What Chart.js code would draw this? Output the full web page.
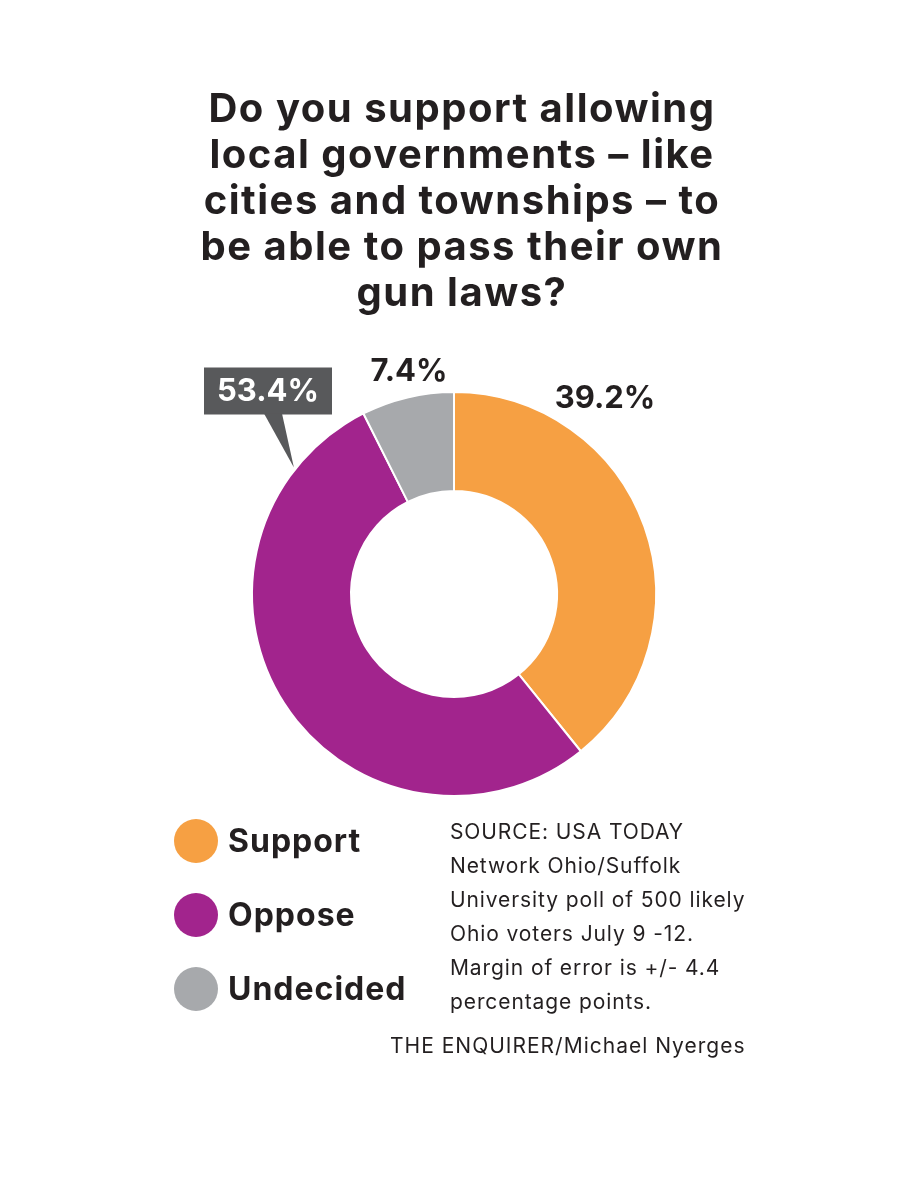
<!DOCTYPE html>
<html>
<head>
<meta charset="utf-8">
<script src="https://cdn.jsdelivr.net/npm/chart.js@4.4.1/dist/chart.umd.min.js"></script>
<style>
  html, body { margin: 0; padding: 0; background: #fff; }
  body { width: 900px; height: 1200px; position: relative; overflow: hidden; font-family: Inter, "Open Sans", sans-serif; color: #231f20; }
  #chart { position: absolute; left: 0; top: 0; }
  #title { position: absolute; left: 162px; width: 600px; top: 85px; text-align: center; font-weight: 700; font-size: 40px; line-height: 46px; letter-spacing: 1.5px; }
  #legend { position: absolute; left: 174px; top: 819px; }
  .item { position: relative; height: 74px; }
  .dot { position: absolute; left: 0; top: 0; width: 44px; height: 44px; border-radius: 50%; }
  .lab { position: absolute; left: 54px; top: 0; line-height: 44px; font-size: 32px; font-weight: 700; white-space: nowrap; letter-spacing: 1px; }
  #source { position: absolute; left: 450px; top: 815px; font-size: 21px; line-height: 34px; letter-spacing: 0.9px; }
  #credit { position: absolute; left: 390px; top: 1029px; font-size: 21px; line-height: 34px; letter-spacing: 1px; }
</style>
</head>
<body>
<canvas id="chart" width="900" height="1200"></canvas>
<div id="title">Do you support allowing<br>local governments – like<br>cities and townships – to<br>be able to pass their own<br>gun laws?</div>
<div id="legend"></div>
<div id="source">SOURCE: USA TODAY<br>Network Ohio/Suffolk<br>University poll of 500 likely<br>Ohio voters July 9 -12.<br>Margin of error is +/- 4.4<br>percentage points.</div>
<div id="credit">THE ENQUIRER/Michael Nyerges</div>
<script>
const categories = ['Support', 'Oppose', 'Undecided'];
const values = [39.2, 53.4, 7.4];
const valueLabels = ['39.2%', '53.4%', '7.4%'];
const colors = ['#f6a043', '#a2248d', '#a7a9ac'];

// legend
const legend = document.getElementById('legend');
categories.forEach((c, i) => {
    const item = document.createElement('div');
    item.className = 'item';
    item.innerHTML = '<div class="dot" style="background:' + colors[i] + '"></div><div class="lab">' + c + '</div>';
    legend.appendChild(item);
});

// label offsets from doughnut centre
const labelStyle = [
    { dx: 151, dy: -196, box: false },
    { dx: -186, dy: -203, box: true, tipAngle: -51.7 },
    { dx: -45, dy: -223, box: false }
];

const labelPlugin = {
    id: 'labels',
    afterDatasetsDraw(chart) {
        const ctx = chart.ctx;
        const meta = chart.getDatasetMeta(0);
        const cx = meta.data[0].x, cy = meta.data[0].y, R = meta.data[0].outerRadius;
        ctx.save();
        ctx.font = '700 31px Inter, "Open Sans", sans-serif';
        ctx.textAlign = 'center';
        ctx.textBaseline = 'middle';
        labelStyle.forEach((s, i) => {
            const x = cx + s.dx, y = cy + s.dy;
            if (s.box) {
                const w = 128, h = 47;
                const a = s.tipAngle * Math.PI / 180;
                const tx = cx + Math.sin(a) * (R + 2), ty = cy - Math.cos(a) * (R + 2);
                ctx.fillStyle = '#58595b';
                ctx.fillRect(x - w / 2, y - h / 2, w, h);
                ctx.beginPath();
                ctx.moveTo(x - 4, y + h / 2 - 1);
                ctx.lineTo(x + 14, y + h / 2 - 1);
                ctx.lineTo(tx, ty);
                ctx.closePath();
                ctx.fill();
                ctx.fillStyle = '#ffffff';
            } else {
                ctx.fillStyle = '#231f20';
            }
            ctx.fillText(valueLabels[i], x, y + 1);
        });
        ctx.restore();
    }
};

new Chart(document.getElementById('chart').getContext('2d'), {
    type: 'doughnut',
    data: {
        labels: categories,
        datasets: [{
            data: values,
            backgroundColor: colors,
            borderColor: '#ffffff',
            borderWidth: 2
        }]
    },
    options: {
        responsive: false,
        animation: false,
        cutout: '51%',
        layout: { padding: { left: 251, right: 243, top: 391, bottom: 403 } },
        plugins: { legend: { display: false }, tooltip: { enabled: false } }
    },
    plugins: [labelPlugin]
});
</script>
</body>
</html>
